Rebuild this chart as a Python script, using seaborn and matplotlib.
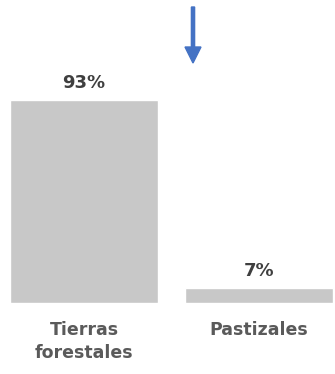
import matplotlib
matplotlib.use("Agg")
import matplotlib.pyplot as plt
from matplotlib.patches import FancyArrow
import seaborn as sns
import pandas as pd

# Share of land by type
categories = ["Tierras\nforestales", "Pastizales"]
shares = [93, 7]
value_labels = ["93%", "7%"]

sns.set_theme(style="white")
plt.rcParams["font.family"] = ["DejaVu Sans"]

df = pd.DataFrame({"categoria": categories, "porcentaje": shares})

fig = plt.figure(figsize=(3.35, 3.74), dpi=100)
ax = fig.add_axes([0.0, 1 - 303 / 374, 1.0, 243 / 374])

sns.barplot(data=df, x="categoria", y="porcentaje", color="#C8C8C8",
            saturation=1, width=0.85, ax=ax)

for i, (v, lab) in enumerate(zip(shares, value_labels)):
    ax.text(i, v + 3.5, lab, ha="center", va="bottom", fontsize=13,
            fontweight="bold", color="#3F3F3F")

ax.set_xlim((0 - 84) / 175, (335 - 84) / 175)
ax.set_ylim(0, 243 / (203 / 93))
ax.set_xlabel("")
ax.set_ylabel("")
ax.set_yticks([])
ax.tick_params(axis="x", length=0, pad=13)
for t in ax.get_xticklabels():
    t.set_fontsize(12.5)
    t.set_fontweight("bold")
    t.set_color("#5A5A5A")
    t.set_linespacing(1.35)
    t.set_verticalalignment("top")
sns.despine(ax=ax, left=True, bottom=True)

# Downward arrow pointing at the first bar
arrow = FancyArrow(1.93, (374 - 7) / 100, 0, -0.56, width=0.032,
                   head_width=0.16, head_length=0.16,
                   length_includes_head=True, color="#4472C4",
                   transform=fig.dpi_scale_trans)
fig.patches.append(arrow)

fig.savefig("out.png", dpi=100)
